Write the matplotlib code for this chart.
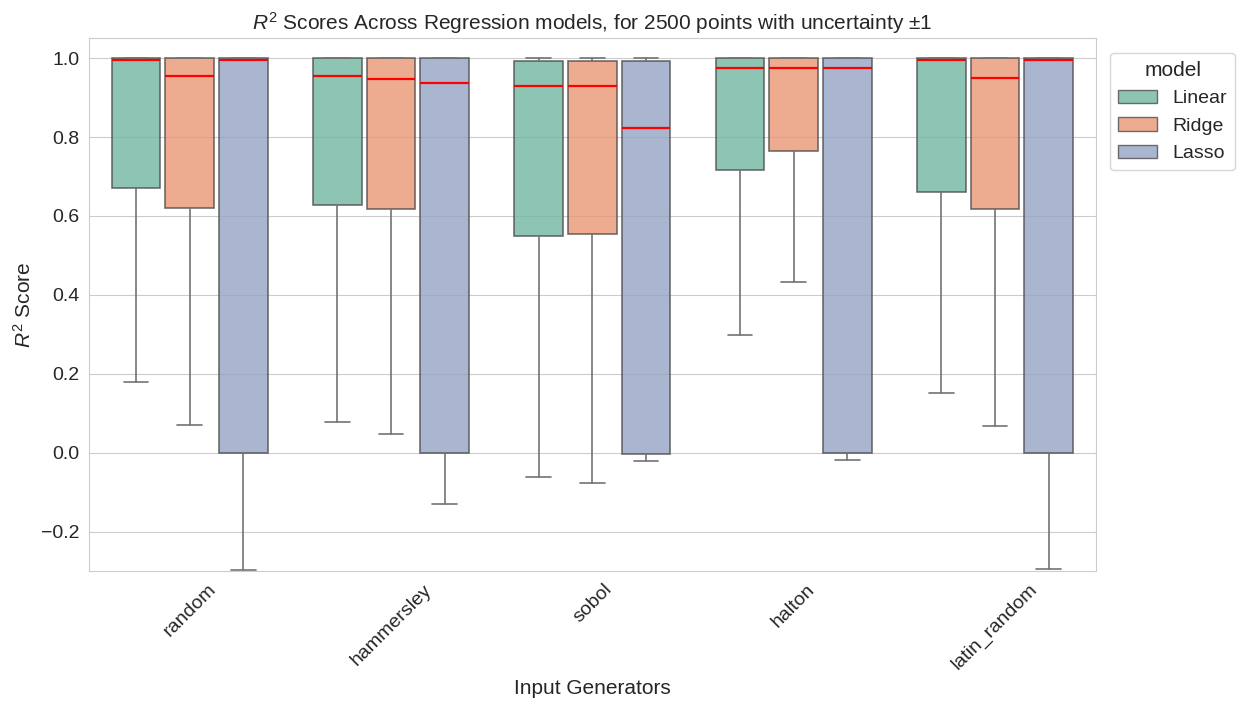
import numpy as np
import matplotlib
matplotlib.use("Agg")
import matplotlib.pyplot as plt
import seaborn as sns
from matplotlib.patches import Patch

generators = ["random", "hammersley", "sobol", "halton", "latin_random"]
models = ["Linear", "Ridge", "Lasso"]

# box stats, one list per generator order
linear_lo = [0.180, 0.078, -0.060, 0.298, 0.151]
linear_q1 = [0.670, 0.627, 0.550, 0.717, 0.660]
linear_med = [0.994, 0.954, 0.930, 0.976, 0.994]
linear_q3 = [1.000, 1.000, 0.992, 1.000, 1.000]
linear_hi = [1.000, 1.000, 1.000, 1.000, 1.000]

ridge_lo = [0.071, 0.048, -0.076, 0.433, 0.067]
ridge_q1 = [0.620, 0.617, 0.554, 0.765, 0.618]
ridge_med = [0.954, 0.947, 0.930, 0.974, 0.950]
ridge_q3 = [1.000, 1.000, 0.992, 1.000, 1.000]
ridge_hi = [1.000, 1.000, 1.000, 1.000, 1.000]

lasso_lo = [-0.296, -0.130, -0.021, -0.018, -0.295]
lasso_q1 = [0.000, 0.000, -0.004, 0.000, 0.000]
lasso_med = [0.994, 0.937, 0.823, 0.974, 0.994]
lasso_q3 = [1.000, 1.000, 0.992, 1.000, 1.000]
lasso_hi = [1.000, 1.000, 1.000, 1.000, 1.000]

stats_by_model = {
    "Linear": (linear_lo, linear_q1, linear_med, linear_q3, linear_hi),
    "Ridge": (ridge_lo, ridge_q1, ridge_med, ridge_q3, ridge_hi),
    "Lasso": (lasso_lo, lasso_q1, lasso_med, lasso_q3, lasso_hi),
}

sns.set_style("whitegrid")
plt.rcParams["font.family"] = ["Liberation Sans", "DejaVu Sans"]
plt.rcParams["mathtext.fontset"] = "custom"
plt.rcParams["mathtext.it"] = "Liberation Sans:italic"
plt.rcParams["mathtext.rm"] = "Liberation Sans"

colors = sns.color_palette("Set2", 3, desat=0.75)

fig = plt.figure(figsize=(12.4, 7.06), dpi=100)
ax = fig.add_axes([0.0718, 0.1908, 0.8118, 0.7549])

x = np.arange(len(generators))
slot = 0.8 / 3

for i, m in enumerate(models):
    lo, q1, med, q3, hi = stats_by_model[m]
    stats = []
    for j in range(len(generators)):
        stats.append({"whislo": lo[j], "q1": q1[j], "med": med[j],
                      "q3": q3[j], "whishi": hi[j], "fliers": []})
    pos = x + (i - 1) * slot
    ax.bxp(stats, positions=pos, widths=0.243, patch_artist=True,
           showfliers=False, manage_ticks=False,
           boxprops=dict(facecolor=colors[i], edgecolor="0.3", alpha=0.8, linewidth=1.2),
           whiskerprops=dict(color="0.45", linewidth=1.2),
           capprops=dict(color="0.45", linewidth=1.2),
           medianprops=dict(color="red", linewidth=1.6))

ax.set_xticks(x)
ax.set_xticklabels(generators, rotation=45, fontsize=14)
ax.tick_params(axis="y", labelsize=14)
ax.set_xlim(-0.5, len(generators) - 0.5)
ax.set_ylim(-0.3, 1.05)
ax.xaxis.grid(False)

ax.set_title(r"$R^2$ Scores Across Regression models, for 2500 points with uncertainty ±1", fontsize=15)
ax.set_ylabel(r"$R^2$ Score", fontsize=15)
ax.set_xlabel("Input Generators", fontsize=15)

handles = [Patch(facecolor=colors[i], edgecolor="0.3", alpha=0.8, label=m)
           for i, m in enumerate(models)]
ax.legend(handles=handles, title="model", loc="upper left",
          bbox_to_anchor=(1.005, 0.99), fontsize=14, title_fontsize=15)

fig.savefig("out.png", dpi=100)
